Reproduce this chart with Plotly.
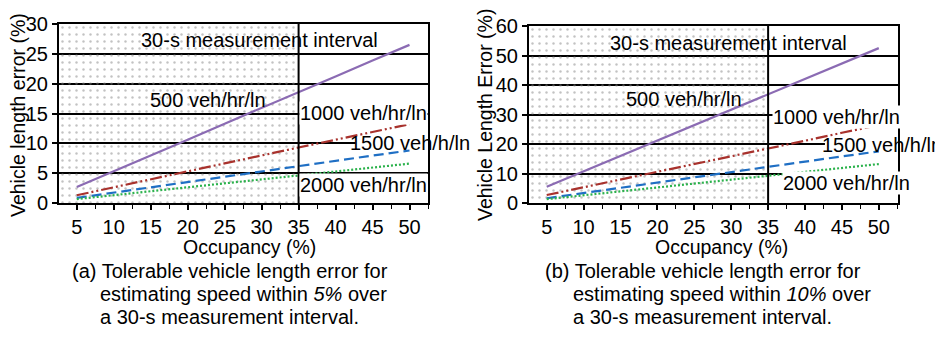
import plotly.graph_objects as go

W, H = 943, 337
OFF = 8  # page body margin in the viewer

occupancy = [5, 10, 15, 20, 25, 30, 35, 40, 45, 50]

# (a) 5% speed tolerance
a_500 = [2.7, 5.3, 8.0, 10.6, 13.3, 15.9, 18.6, 21.2, 23.9, 26.5]
a_1000 = [1.3, 2.65, 4.0, 5.3, 6.6, 8.0, 9.3, 10.6, 11.9, 13.2]
a_1500 = [0.85, 1.75, 2.65, 3.5, 4.4, 5.3, 6.2, 7.05, 7.95, 8.8]
a_2000 = [0.65, 1.3, 2.0, 2.65, 3.3, 4.0, 4.6, 5.3, 5.95, 6.6]

# (b) 10% speed tolerance
b_500 = [5.5, 10.7, 15.9, 21.1, 26.3, 31.5, 36.8, 42.0, 47.2, 52.5]
b_1000 = [2.7, 5.3, 8.0, 10.6, 13.2, 15.9, 18.5, 21.1, 23.8, 26.4]
b_1500 = [1.6, 3.4, 5.2, 7.0, 8.8, 10.5, 12.3, 14.0, 15.8, 17.5]
b_2000 = [1.3, 2.6, 3.9, 5.3, 6.6, 7.9, 9.2, 10.5, 11.9, 13.2]

series_names = ["500 veh/hr/ln", "1000 veh/hr/ln", "1500 veh/h/ln", "2000 veh/hr/ln"]
colors = ["#8b6bb3", "#a8322d", "#1f6fc4", "#2bb24c"]
dashes = ["solid", "12px,3px,2px,3px,2px,3px", "10px,5px", "2px,2px"]

FONT = "Liberation Sans, Arial, Helvetica, sans-serif"


def px(x):
    return (x - OFF) / W


def py(y):
    return 1 - (y - OFF) / H


fig = go.Figure()

panels = [
    dict(xa="x", ya="y", data=[a_500, a_1000, a_1500, a_2000], ymax=30, dy=5,
         xdom=[px(59), px(428)], ydom=[py(203), py(24)], xr=[2.6, 52.5]),
    dict(xa="x2", ya="y2", data=[b_500, b_1000, b_1500, b_2000], ymax=60, dy=10,
         xdom=[px(529), px(898)], ydom=[py(203), py(26)], xr=[2.6, 52.6]),
]

for p in panels:
    x0 = p["xr"][0]
    # dotted shaded region for occupancy <= 35%
    fig.add_trace(go.Scatter(
        x=[x0, 35, 35, x0, x0], y=[0, 0, p["ymax"], p["ymax"], 0],
        xaxis=p["xa"], yaxis=p["ya"], mode="lines", line=dict(width=0),
        fill="toself", fillcolor="rgba(0,0,0,0)",
        fillpattern=dict(shape=".", fgcolor="#858585", bgcolor="rgba(0,0,0,0)",
                         size=7, solidity=0.1),
        hoverinfo="skip", showlegend=False))
    for vals, name, c, d in zip(p["data"], series_names, colors, dashes):
        fig.add_trace(go.Scatter(
            x=occupancy, y=vals, xaxis=p["xa"], yaxis=p["ya"], mode="lines",
            name=name, line=dict(color=c, width=2.2, dash=d), showlegend=False))
    fig.add_shape(type="line", xref=p["xa"], yref=p["ya"], x0=35, x1=35, y0=0,
                  y1=p["ymax"], line=dict(color="black", width=2), layer="above")
    # gridline break behind the "1500" label
    band = p["ymax"] / 60.0
    gy = p["ymax"] / 3.0
    fig.add_shape(type="rect", xref=p["xa"], yref=p["ya"], x0=42.7, x1=p["xr"][1] + 0.3,
                  y0=gy - band, y1=gy + band, line=dict(width=0), fillcolor="white",
                  layer="above")

axis_common = dict(showline=True, linecolor="black", linewidth=2, mirror=True,
                   ticks="outside", tickcolor="black", tickwidth=1.5, ticklen=5,
                   tickfont=dict(family=FONT, size=20, color="black"),
                   zeroline=False, automargin=False)

fig.update_layout(
    width=W, height=H, margin=dict(l=0, r=0, t=0, b=0),
    paper_bgcolor="white", plot_bgcolor="white", showlegend=False,
    font=dict(family=FONT, size=20, color="black"),
    xaxis=dict(domain=panels[0]["xdom"], range=panels[0]["xr"], anchor="y",
               tickvals=occupancy, showgrid=False,
               minor=dict(dtick=2.5, tick0=0, ticks="outside", ticklen=4,
                          tickwidth=1.2, tickcolor="black", showgrid=False),
               **axis_common),
    yaxis=dict(domain=panels[0]["ydom"], range=[0, 30], anchor="x", dtick=5,
               showgrid=True, gridcolor="black", gridwidth=1.5, **axis_common),
    xaxis2=dict(domain=panels[1]["xdom"], range=panels[1]["xr"], anchor="y2",
                tickvals=occupancy, showgrid=False,
                minor=dict(dtick=2.5, tick0=0, ticks="outside", ticklen=4,
                           tickwidth=1.2, tickcolor="black", showgrid=False),
                **axis_common),
    yaxis2=dict(domain=panels[1]["ydom"], range=[0, 60], anchor="x2", dtick=10,
                showgrid=True, gridcolor="black", gridwidth=1.5, **axis_common),
)

ann = []
tf = dict(family=FONT, size=20, color="black")

# in-plot labels (data coordinates)
labels_a = [
    ("30-s measurement interval", 29.7, 27.3, None),
    ("500 veh/hr/ln", 22.7, 17.2, None),
    ("1000 veh/hr/ln", 43.8, 15, "white"),
    ("1500 veh/h/ln", 50.1, 10, None),
    ("2000 veh/hr/ln", 43.8, 3.0, "white"),
]
labels_b = [
    ("30-s measurement interval", 29.6, 54.3, None),
    ("500 veh/hr/ln", 23.6, 35.3, None),
    ("1000 veh/hr/ln", 44.2, 29.2, "white"),
    ("1500 veh/h/ln", 50.4, 19.5, None),
    ("2000 veh/hr/ln", 45.6, 6.8, "white"),
]
for labels, xa, ya in [(labels_a, "x", "y"), (labels_b, "x2", "y2")]:
    for t, x, y, bg in labels:
        a = dict(text=t, x=x, y=y, xref=xa, yref=ya, showarrow=False, font=tf,
                 xanchor="center", yanchor="middle", borderpad=0)
        if bg:
            a["bgcolor"] = bg
        ann.append(a)

# axis titles
tt = dict(family=FONT, size=19.5, color="black")
ann.append(dict(text="Vehicle length error (%)", x=px(18), y=py(115), xref="paper",
                yref="paper", textangle=-90, showarrow=False, font=tt,
                xanchor="center", yanchor="middle"))
ann.append(dict(text="Vehicle Length Error (%)", x=px(485), y=py(115), xref="paper",
                yref="paper", textangle=-90, showarrow=False, font=tt,
                xanchor="center", yanchor="middle"))
ann.append(dict(text="Occupancy (%)", x=px(250), y=py(247), xref="paper", yref="paper",
                showarrow=False, font=tt, xanchor="center", yanchor="middle"))
ann.append(dict(text="Occupancy (%)", x=px(721), y=py(247), xref="paper", yref="paper",
                showarrow=False, font=tt, xanchor="center", yanchor="middle"))

# captions
captions = [
    ("(a) Tolerable vehicle length error for", 70, 271),
    ("estimating speed within <i>5%</i> over", 98, 294),
    ("a 30-s measurement interval.", 98, 317),
    ("(b) Tolerable vehicle length error for", 543, 271),
    ("estimating speed within <i>10%</i> over", 571, 294),
    ("a 30-s measurement interval.", 571, 317),
]
for t, x, y in captions:
    ann.append(dict(text=t, x=px(x), y=py(y), xref="paper", yref="paper",
                    showarrow=False, font=dict(family=FONT, size=20, color="black"),
                    xanchor="left", yanchor="middle"))

fig.update_layout(annotations=ann)
fig.write_html("out.html")
